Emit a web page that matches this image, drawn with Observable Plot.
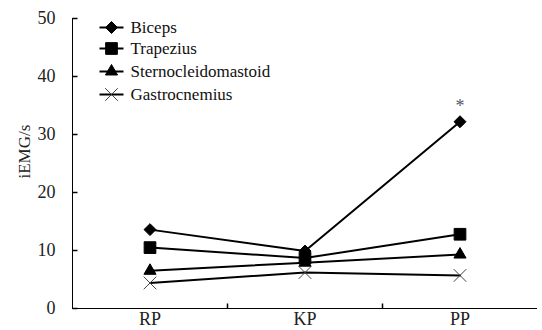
<!DOCTYPE html>
<html><head><meta charset="utf-8">
<script src="https://cdn.jsdelivr.net/npm/d3@7"></script>
<script src="https://cdn.jsdelivr.net/npm/@observablehq/plot@0.6"></script>
<style>body{margin:0;background:#fff}</style>
</head><body><div id="chart"></div>
<script>
const categories = ["RP", "KP", "PP"];
const seriesNames = ["Biceps", "Trapezius", "Sternocleidomastoid", "Gastrocnemius"];
const biceps = [13.6, 9.9, 32.2];
const trapezius = [10.5, 8.7, 12.8];
const sternocleidomastoid = [6.5, 7.9, 9.3];
const gastrocnemius = [4.4, 6.2, 5.7];
const yTicks = [0, 10, 20, 30, 40, 50];
const significance = [{category: "PP", series: "Biceps", mark: "*"}];

const seriesValues = [biceps, trapezius, sternocleidomastoid, gastrocnemius];
const symbolFor = {Biceps: "diamond2", Trapezius: "square", Sternocleidomastoid: "triangle", Gastrocnemius: "times"};
const rFor = {Biceps: 5.4, Trapezius: 6.6, Sternocleidomastoid: 4.5, Gastrocnemius: 5.8};

const rows = [];
seriesNames.forEach((s, k) => categories.forEach((c, i) => rows.push({series: s, category: c, pos: i + 0.5, value: seriesValues[k][i]})));

const font = "'Liberation Serif', 'Times New Roman', serif";
const hLine = {draw(ctx) { ctx.moveTo(-12, 0); ctx.lineTo(12, 0); }};
const yTickSym = {draw(ctx) { ctx.moveTo(0, 0); ctx.lineTo(5, 0); }};
const xTickSym = {draw(ctx) { ctx.moveTo(0, 0); ctx.lineTo(0, -5); }};

const marks = [
  Plot.ruleX([0], {stroke: "#000", strokeWidth: 1}),
  Plot.ruleY([0], {stroke: "#000", strokeWidth: 1}),
  Plot.axisY({ticks: yTicks, tickSize: 0, tickPadding: 17, fontSize: 18, fill: "#222", label: null}),
  Plot.dot(yTicks, {y: d => d, frameAnchor: "left", symbol: yTickSym, stroke: "#000", r: 3}),
  Plot.dot([1, 2], {x: d => d, frameAnchor: "bottom", symbol: xTickSym, stroke: "#000", r: 3}),
  Plot.axisX({ticks: categories.map((c, i) => i + 0.5), tickFormat: d => categories[Math.floor(d)], tickSize: 0, tickPadding: 4, fontSize: 18, fill: "#222", label: null}),
  Plot.text(["iEMG/s"], {text: d => d, frameAnchor: "left", dx: -48, dy: 15, rotate: -90, fontSize: 17, fill: "#222"}),
  Plot.line(rows, {x: "pos", y: "value", z: "series", stroke: "#000", strokeWidth: 2}),
];
seriesNames.forEach(s => {
  const data = rows.filter(d => d.series === s);
  const isStroke = s === "Gastrocnemius";
  marks.push(Plot.dot(data, {x: "pos", y: "value", symbol: symbolFor[s], r: rFor[s],
    fill: isStroke ? "none" : "#000", stroke: isStroke ? "#444" : "#000", strokeWidth: 1}));
});
marks.push(Plot.text(significance, {
  x: d => categories.indexOf(d.category) + 0.5,
  y: d => seriesValues[seriesNames.indexOf(d.series)][categories.indexOf(d.category)],
  text: "mark", dy: -16, fontSize: 18, fill: "#556"}));

const legendDy = [9, 30, 53, 76];
seriesNames.forEach((s, k) => {
  const isStroke = s === "Gastrocnemius";
  marks.push(
    Plot.dot([s], {frameAnchor: "top-left", dx: 39, dy: legendDy[k], symbol: hLine, stroke: "#000", strokeWidth: 2, r: 3}),
    Plot.dot([s], {frameAnchor: "top-left", dx: 39, dy: legendDy[k], symbol: symbolFor[s], r: rFor[s],
      fill: isStroke ? "none" : "#000", stroke: isStroke ? "#444" : "#000", strokeWidth: 1}),
    Plot.text([s], {text: d => d, frameAnchor: "top-left", dx: 58, dy: legendDy[k], textAnchor: "start", lineAnchor: "middle", fontSize: 17, fill: "#111"})
  );
});

const chart = Plot.plot({
  width: 542, height: 330,
  marginLeft: 72, marginRight: 5, marginTop: 18, marginBottom: 22,
  style: {fontFamily: font, background: "#fff", color: "#000"},
  x: {type: "linear", domain: [0, 3], axis: null},
  y: {domain: [0, 50], axis: null},
  marks
});
document.getElementById("chart").appendChild(chart);
</script>
</body></html>
